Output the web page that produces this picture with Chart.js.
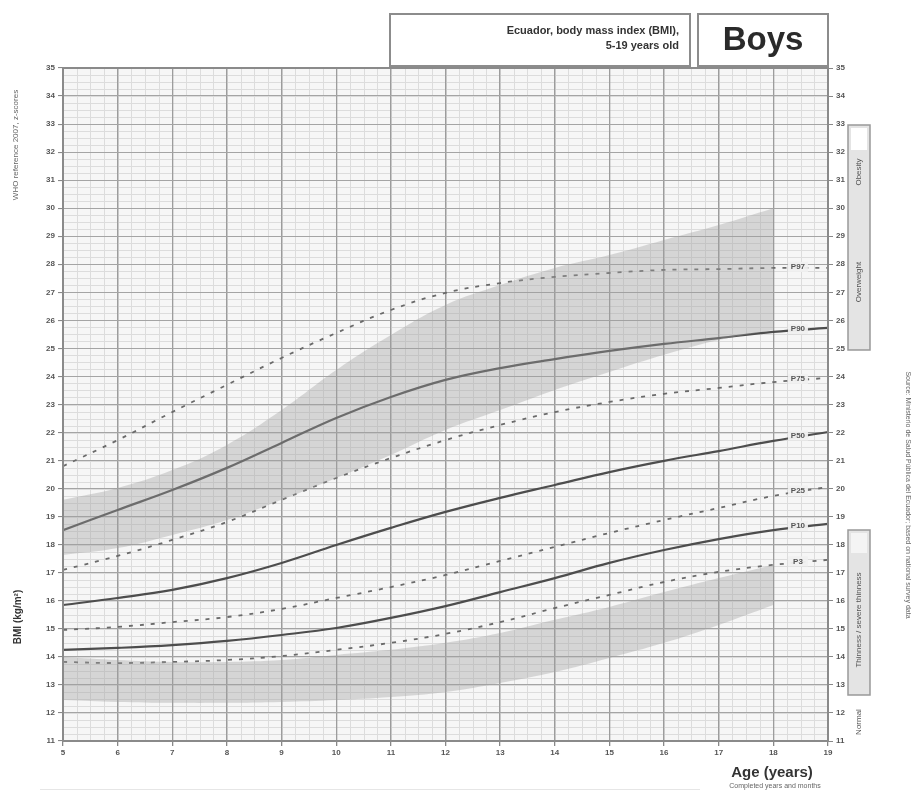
<!DOCTYPE html>
<html>
<head>
<meta charset="utf-8">
<script src="https://cdn.jsdelivr.net/npm/chart.js@4.4.1/dist/chart.umd.min.js"></script>
<style>
  html,body{margin:0;padding:0;background:#fff;}
  #wrap{position:relative;width:917px;height:791px;}
</style>
</head>
<body>
<div id="wrap"><canvas id="c" width="917" height="791"></canvas></div>
<script>
// ---- data ----
const ages = [5,6,7,8,9,10,11,12,13,14,15,16,17,18,19];
const bandAges = [5,6,7,8,9,10,11,12,13,14,15,16,17,18];
const yTicks = [11,12,13,14,15,16,17,18,19,20,21,22,23,24,25,26,27,28,29,30,31,32,33,34,35];
const xTicks = [5,6,7,8,9,10,11,12,13,14,15,16,17,18,19];

const p97 = [20.8,21.73,22.73,23.7,24.66,25.55,26.37,26.98,27.33,27.55,27.69,27.8,27.83,27.87,27.87];
const p90 = [18.52,19.24,19.95,20.74,21.63,22.52,23.27,23.88,24.3,24.62,24.91,25.16,25.37,25.59,25.73];
const p75 = [17.1,17.6,18.17,18.81,19.6,20.38,21.09,21.73,22.27,22.73,23.09,23.38,23.59,23.8,23.95];
const p50 = [15.85,16.1,16.39,16.81,17.35,17.99,18.6,19.17,19.67,20.13,20.59,20.99,21.34,21.7,22.02];
const p25 = [14.96,15.07,15.24,15.42,15.71,16.1,16.49,16.92,17.42,17.92,18.42,18.88,19.31,19.74,20.06];
const p10 = [14.25,14.32,14.42,14.57,14.78,15.03,15.39,15.81,16.31,16.81,17.35,17.81,18.2,18.52,18.74];
const p3  = [13.82,13.78,13.82,13.89,14.03,14.25,14.5,14.82,15.24,15.74,16.21,16.67,17.03,17.28,17.46];

const upperBandTop    = [19.6,20.02,20.66,21.56,22.8,24.23,25.48,26.55,27.26,27.87,28.33,28.87,29.4,30.0];
const upperBandBottom = [17.63,17.88,18.35,18.88,19.6,20.38,21.2,22.09,22.8,23.52,24.16,24.77,25.3,25.66];
const lowerBandTop    = [14.0,13.89,13.82,13.82,13.89,14.07,14.25,14.5,14.85,15.32,15.78,16.31,16.81,17.28];
const lowerBandBottom = [12.46,12.39,12.36,12.36,12.39,12.46,12.57,12.75,13.07,13.46,13.96,14.5,15.14,15.85];

const curveNames = ['P97','P90','P75','P50','P25','P10','P3'];
const curveSeries = [p97,p90,p75,p50,p25,p10,p3];
const curveDashed = [true,false,true,false,true,false,true];

// ---- build datasets ----
const pts = (xs, ys) => xs.map((x,i)=>({x:x,y:ys[i]}));
const BAND = 'rgba(160,160,160,0.38)';
const datasets = [
  {data:pts(bandAges,upperBandTop), borderWidth:0, pointRadius:0, fill:false, backgroundColor:BAND, tension:0.4},
  {data:pts(bandAges,upperBandBottom), borderWidth:0, pointRadius:0, fill:'-1', backgroundColor:BAND, tension:0.4},
  {data:pts(bandAges,lowerBandTop), borderWidth:0, pointRadius:0, fill:false, backgroundColor:BAND, tension:0.4},
  {data:pts(bandAges,lowerBandBottom), borderWidth:0, pointRadius:0, fill:'-1', backgroundColor:BAND, tension:0.4},
];
curveSeries.forEach((s,i)=>{
  datasets.push({
    label:curveNames[i], data:pts(ages,s), pointRadius:0, fill:false, tension:0.4,
    borderColor: curveDashed[i] ? '#6a6a6a' : '#4d4d4d',
    borderWidth: curveDashed[i] ? 1.8 : 2.2,
    borderDash: curveDashed[i] ? [4,7] : []
  });
});

// ---- decorations plugin ----
const deco = {
  id:'deco',
  beforeDraw(chart){
    const {ctx, chartArea:a, scales:{x,y}} = chart;
    ctx.save();
    ctx.fillStyle='#fff'; ctx.fillRect(0,0,chart.width,chart.height);
    ctx.fillStyle='#f6f6f6'; ctx.fillRect(a.left,a.top,a.right-a.left,a.bottom-a.top);
    ctx.strokeStyle='#dcdcdc'; ctx.lineWidth=1;
    for(let v=5; v<=19.0001; v+=0.25){
      const px=Math.round(x.getPixelForValue(v))+0.5;
      ctx.beginPath(); ctx.moveTo(px,a.top); ctx.lineTo(px,a.bottom); ctx.stroke();
    }
    for(let v=11; v<=35.0001; v+=0.25){
      const py=Math.round(y.getPixelForValue(v))+0.5;
      ctx.beginPath(); ctx.moveTo(a.left,py); ctx.lineTo(a.right,py); ctx.stroke();
    }
    ctx.restore();
  },
  afterDraw(chart){
    const {ctx, chartArea:a, scales:{x,y}} = chart;
    ctx.save();
    // plot border
    ctx.strokeStyle='#8a8a8a'; ctx.lineWidth=2;
    ctx.strokeRect(a.left,a.top,a.right-a.left,a.bottom-a.top);
    // curve labels
    ctx.font='bold 8px "Liberation Sans", Arial, sans-serif';
    ctx.textAlign='center'; ctx.textBaseline='middle';
    curveSeries.forEach((s,i)=>{
      const v=(s[13]+s[14])/2;
      const px=x.getPixelForValue(18.45), py=y.getPixelForValue(v)-1;
      ctx.fillStyle='rgba(240,240,240,0.95)';
      ctx.fillRect(px-10,py-5,20,10);
      ctx.fillStyle='#555';
      ctx.fillText(curveNames[i],px,py);
    });
    // title boxes
    ctx.lineWidth=2; ctx.strokeStyle='#8c8c8c'; ctx.fillStyle='#fff';
    ctx.fillRect(390,14,300,52); ctx.strokeRect(390,14,300,52);
    ctx.fillRect(698,14,130,52); ctx.strokeRect(698,14,130,52);
    ctx.fillStyle='#333'; ctx.textAlign='right'; ctx.textBaseline='middle';
    ctx.font='bold 11px "Liberation Sans", Arial, sans-serif';
    ctx.fillText('Ecuador, body mass index (BMI),',679,31);
    ctx.fillText('5-19 years old',679,46);
    ctx.textAlign='center';
    ctx.font='bold 33px "Liberation Sans", Arial, sans-serif';
    ctx.fillStyle='#2a2a2a';
    ctx.fillText('Boys',763,41);
    // x axis title
    ctx.font='bold 15px "Liberation Sans", Arial, sans-serif';
    ctx.fillStyle='#333';
    ctx.fillText('Age (years)',772,773);
    ctx.font='7px "Liberation Sans", Arial, sans-serif';
    ctx.fillStyle='#666';
    ctx.fillText('Completed years and months',775,786);
    ctx.strokeStyle='#e6e6e6'; ctx.lineWidth=1;
    ctx.beginPath(); ctx.moveTo(40,789.5); ctx.lineTo(700,789.5); ctx.stroke();
    // y axis title (rotated)
    const rot=(txt,cx,cy,ang,font,color)=>{
      ctx.save(); ctx.translate(cx,cy); ctx.rotate(ang);
      ctx.font=font; ctx.fillStyle=color; ctx.textAlign='center'; ctx.textBaseline='middle';
      ctx.fillText(txt,0,0); ctx.restore();
    };
    rot('BMI (kg/m\u00b2)',18,617,-Math.PI/2,'bold 10px "Liberation Sans", Arial, sans-serif','#333');
    rot('WHO reference 2007, z-scores',16,145,-Math.PI/2,'8px "Liberation Sans", Arial, sans-serif','#666');
    rot('Source: Ministerio de Salud P\u00fablica del Ecuador; based on national survey data',908,495,Math.PI/2,'7px "Liberation Sans", Arial, sans-serif','#666');
    // right classification boxes
    ctx.lineWidth=1.5; ctx.strokeStyle='#999';
    ctx.fillStyle='#e4e4e4';
    ctx.fillRect(848,125,22,225); ctx.strokeRect(848,125,22,225);
    ctx.fillStyle='#fff'; ctx.fillRect(851,128,16,22);
    ctx.fillStyle='#e4e4e4';
    ctx.fillRect(848,530,22,165); ctx.strokeRect(848,530,22,165);
    ctx.fillStyle='#f4f4f4'; ctx.fillRect(851,533,16,20);
    rot('Obesity',859,172,-Math.PI/2,'8px "Liberation Sans", Arial, sans-serif','#555');
    rot('Overweight',859,282,-Math.PI/2,'8px "Liberation Sans", Arial, sans-serif','#555');
    rot('Thinness / severe thinness',859,620,-Math.PI/2,'8px "Liberation Sans", Arial, sans-serif','#555');
    rot('Normal',859,722,-Math.PI/2,'8px "Liberation Sans", Arial, sans-serif','#555');
    ctx.restore();
  }
};

const tickFont = {size:8, weight:'bold', family:'"Liberation Sans", Arial, sans-serif'};
new Chart(document.getElementById('c'), {
  type:'line',
  data:{datasets},
  options:{
    responsive:false, animation:false, events:[],
    layout:{padding:{top:68,left:0,right:0,bottom:0}},
    plugins:{legend:{display:false}, tooltip:{enabled:false}, title:{display:false}},
    scales:{
      x:{type:'linear', min:5, max:19,
         afterBuildTicks(s){ s.ticks = xTicks.map(v=>({value:v})); },
         afterFit(s){ s.height=50; },
         ticks:{color:'#555', font:tickFont, padding:2, maxRotation:0, autoSkip:false},
         grid:{color:'#9c9c9c', lineWidth:1.3, tickLength:5, tickColor:'#888'},
         border:{display:false}},
      y:{type:'linear', position:'left', min:11, max:35,
         afterBuildTicks(s){ s.ticks = yTicks.map(v=>({value:v})); },
         afterFit(s){ s.width=63; },
         ticks:{color:'#555', font:tickFont, padding:3, autoSkip:false},
         grid:{color:'#a4a4a4', lineWidth:1.1, tickLength:5, tickColor:'#888'},
         border:{display:false}},
      y2:{type:'linear', position:'right', min:11, max:35,
         afterBuildTicks(s){ s.ticks = yTicks.map(v=>({value:v})); },
         afterFit(s){ s.width=89; },
         ticks:{color:'#555', font:tickFont, padding:3, autoSkip:false},
         grid:{drawOnChartArea:false, tickLength:5, tickColor:'#888'},
         border:{display:false}}
    }
  },
  plugins:[deco]
});
</script>
</body>
</html>
